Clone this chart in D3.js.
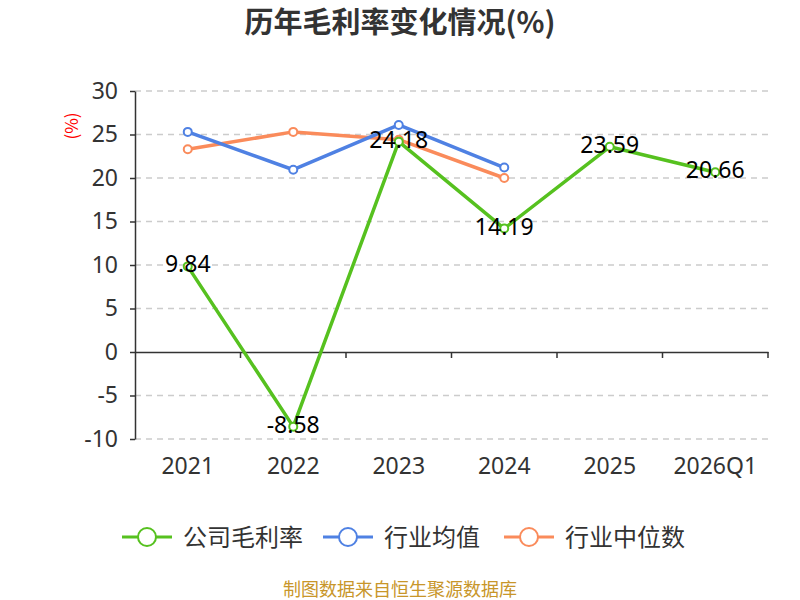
<!DOCTYPE html>
<html><head><meta charset="utf-8">
<script src="https://cdn.jsdelivr.net/npm/d3@7"></script>
<style>body{margin:0;background:#fff}svg{display:block}text{font-family:"Noto Sans CJK SC","Noto Sans",sans-serif}</style>
</head><body><svg id="c" width="800" height="600"></svg>
<script>
const categories = ["2021","2022","2023","2024","2025","2026Q1"];
const companyMargin = [9.84, -8.58, 24.18, 14.19, 23.59, 20.66];
const industryAvg = [25.3, 20.95, 26.1, 21.2, null, null];
const industryMedian = [23.3, 25.3, 24.4, 20.0, null, null];
const yTicks = [-10, -5, 0, 5, 10, 15, 20, 25, 30];
const seriesNames = ["公司毛利率", "行业均值", "行业中位数"];
const colors = ["#56c11f", "#4f81e3", "#fa8b5b"];

(function(){
const svg = d3.select("#c");
const pLeft = 135, pRight = 768, pTop = 91, pBottom = 439;
const x = d3.scaleBand().domain(categories).range([pLeft, pRight]);
const y = d3.scaleLinear().domain([-10, 30]).range([pBottom, pTop]);
const numFont = '"Noto Sans","Noto Sans CJK SC",sans-serif';

svg.append("text").attr("x", 400).attr("y", 33).attr("text-anchor", "middle")
  .attr("font-size", 29).attr("font-weight", "bold").attr("fill", "#333").text("历年毛利率变化情况(%)");

// grid
svg.append("g").selectAll("line").data(yTicks.filter(d => d !== 0)).join("line")
  .attr("x1", pLeft).attr("x2", pRight).attr("y1", d => y(d)).attr("y2", d => y(d))
  .attr("stroke", "#ccc").attr("stroke-width", 1.5).attr("stroke-dasharray", "6,5");

// y axis
const ya = svg.append("g").attr("transform", `translate(${pLeft},0)`)
  .call(d3.axisLeft(y).tickValues(yTicks).tickSize(5).tickPadding(12).tickSizeOuter(0)
    .tickFormat(d => String(d)));
ya.select(".domain").attr("stroke", "#333").attr("stroke-width", 1.5);
ya.selectAll(".tick line").attr("stroke", "#333").attr("stroke-width", 1.5);
ya.selectAll(".tick text").attr("font-size", 23).attr("fill", "#333").style("font-family", numFont);

// x axis at zero
const xa = svg.append("g").attr("transform", `translate(0,${y(0)})`)
  .call(d3.axisBottom(x).tickSize(0).tickSizeOuter(0).tickFormat(""));
xa.select(".domain").attr("stroke", "#333").attr("stroke-width", 1.5);
const bounds = categories.slice(1).map(c => x(c)).concat([pRight]);
svg.append("g").selectAll("line").data(bounds).join("line")
  .attr("x1", d => d).attr("x2", d => d).attr("y1", y(0)).attr("y2", y(0) + 6)
  .attr("stroke", "#333").attr("stroke-width", 1.5);
svg.append("g").selectAll("text").data(categories).join("text")
  .attr("x", d => x(d) + x.bandwidth() / 2).attr("y", 474).attr("text-anchor", "middle")
  .attr("font-size", 23).attr("fill", "#333").style("font-family", numFont).text(d => d);

// y unit
svg.append("text").attr("transform", "translate(78,126) rotate(-90)").attr("text-anchor", "middle")
  .attr("font-size", 17).attr("fill", "red").text("(%)");

const cx = d => x(d) + x.bandwidth() / 2;
function drawSeries(vals, color) {
  const pts = vals.map((v, i) => ({c: categories[i], v})).filter(d => d.v !== null);
  svg.append("path").datum(pts)
    .attr("d", d3.line().x(d => cx(d.c)).y(d => y(d.v)))
    .attr("fill", "none").attr("stroke", color).attr("stroke-width", 3.5).attr("stroke-linejoin", "round");
  svg.append("g").selectAll("circle").data(pts).join("circle")
    .attr("cx", d => cx(d.c)).attr("cy", d => y(d.v)).attr("r", 4)
    .attr("fill", "#fff").attr("stroke", color).attr("stroke-width", 2);
  return pts;
}
drawSeries(industryMedian, colors[2]);
drawSeries(industryAvg, colors[1]);
const cp = drawSeries(companyMargin, colors[0]);
svg.append("g").selectAll("text").data(cp).join("text")
  .attr("x", d => cx(d.c)).attr("y", d => y(d.v) + 6).attr("text-anchor", "middle")
  .attr("font-size", 23).attr("fill", "#000").style("font-family", numFont).text(d => d.v.toFixed(2));

// legend
const legendX = [122, 323, 504];
seriesNames.forEach((n, i) => {
  const g = svg.append("g").attr("transform", `translate(${legendX[i]},537)`);
  g.append("line").attr("x1", 0).attr("x2", 50).attr("stroke", colors[i]).attr("stroke-width", 3);
  g.append("circle").attr("cx", 25).attr("r", 9).attr("fill", "#fff").attr("stroke", colors[i]).attr("stroke-width", 2);
  g.append("text").attr("x", 61).attr("y", 9).attr("font-size", 24).attr("fill", "#333").text(n);
});

svg.append("text").attr("x", 400).attr("y", 596).attr("text-anchor", "middle")
  .attr("font-size", 18).attr("fill", "#c8962a").text("制图数据来自恒生聚源数据库");
})();
</script></body></html>
